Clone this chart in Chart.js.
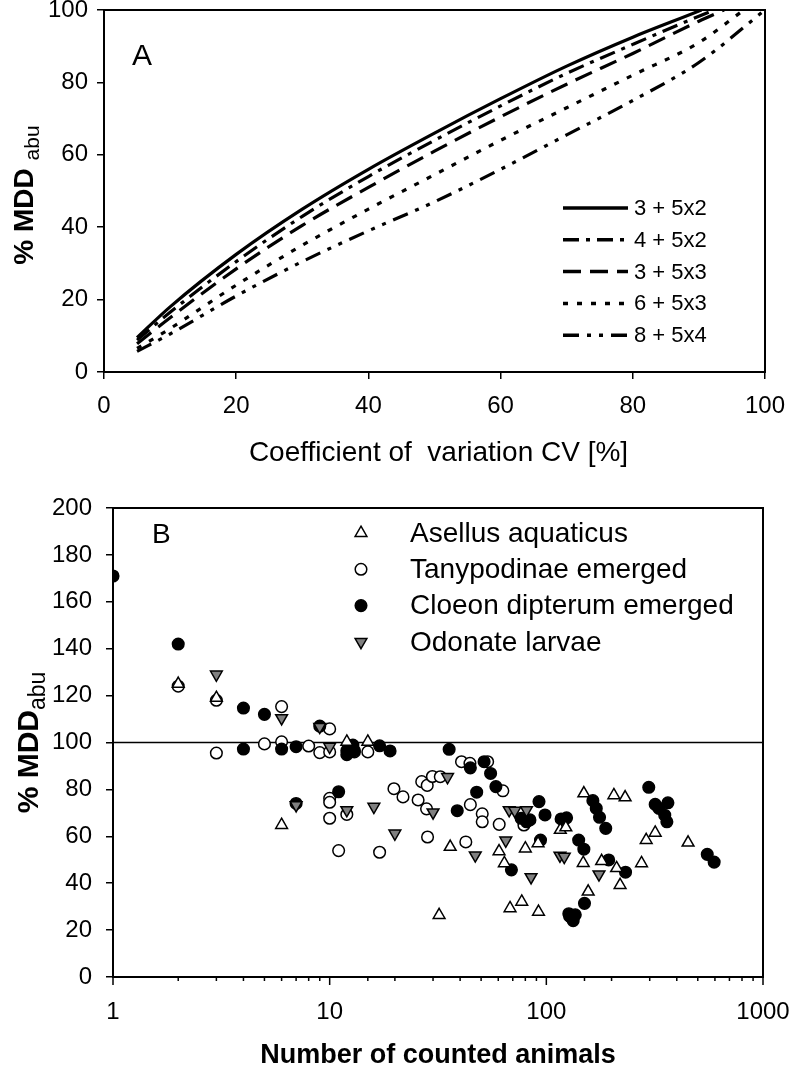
<!DOCTYPE html>
<html>
<head>
<meta charset="utf-8">
<script src="https://cdn.jsdelivr.net/npm/chart.js@4.4.0/dist/chart.umd.min.js"></script>
<style>
  body { margin: 0; background: #fff; }
  #wrapA { position: absolute; left: 0; top: 0; width: 792px; height: 490px; }
  #wrapB { position: absolute; left: 0; top: 490px; width: 792px; height: 581px; }
</style>
</head>
<body>
<div id="wrapA"><canvas id="chartA"></canvas></div>
<div id="wrapB"><canvas id="chartB"></canvas></div>
<script>
const FONT = "'Liberation Sans', Arial, sans-serif";
Chart.defaults.font.family = FONT;
Chart.defaults.color = '#000';
Chart.defaults.animation = false;

// ---- panel A data ----
const cvGrid = [5, 10, 20, 30, 40, 50, 60, 70, 80, 90];
const curveLabels = ['3 + 5x2', '4 + 5x2', '3 + 5x3', '6 + 5x3', '8 + 5x4'];
const mdd3x2 = [9.5, 18, 32.5, 45, 56, 66, 75.5, 84.5, 92.5, 99.7];
const mdd4x2 = [8.8, 16.5, 30.5, 43, 54, 64, 73.5, 82.5, 90.5, 98.3];
const mdd3x3 = [7.8, 15, 28.5, 40.5, 51, 61, 70.5, 79.5, 88, 96.9];
const mdd6x3 = [6.5, 12, 24, 35, 45, 54.5, 64, 73, 82, 91];
const mdd8x4 = [5.7, 10.5, 21, 30.5, 39, 47, 56, 65.5, 75, 85.5];
const cvAt100 = [90.4, 92.3, 93.8, 96.8, 100];
const cvTicks = [0, 20, 40, 60, 80, 100];

// ---- panel B data: [counted animals, %MDD] ----
const speciesLabels = ['Asellus aquaticus', 'Tanypodinae emerged', 'Cloeon dipterum emerged', 'Odonate larvae'];
const asellus = [[2,125],[3,119],[6,64.8],[12,100.3],[15,100.3],[32,26.4],[36,55.5],[60.5,53.6],[64,48.5],
  [68,29.3],[77,32.1],[80,54.8],[92,27.8],[91.6,57],[116,62.7],[123,63.8],[148,48.6],[149,78.3],[156,36.4],
  [180,49.4],[205,77.5],[211,46.4],[219,39.2],[231,76.6],[275,48.5],[289,58.4],[318,61.5],[451,57.3]];
const tanypodinae = [[2,124],[3,118],[3,95.5],[5,99.4],[6,115.3],[6,100.3],[8,98.5],[9,95.7],[10,105.8],[10,96],
  [10,76.2],[10,74.5],[10,67.7],[11,53.9],[12,69.3],[13,96],[15,96],[17,53.2],[19.8,80.3],[21.8,76.8],[25.6,75.5],
  [26.6,83.3],[28.2,81.7],[28,71.7],[28.3,59.7],[29.8,85.5],[32.4,85.4],[40.6,91.8],[42.5,57.6],[44.4,91.1],
  [44.6,73.5],[50.6,69.6],[50.6,66.2],[53.6,91.8],[60.6,65.1],[63,79.4],[78.8,64.8]];
const cloeon = [[1,171],[2,142],[4,114.7],[4,97.2],[5,112],[6,97.2],[7,98.2],[7,74],[9,107],[11,79],[12,96.5],
  [12,94.8],[12.8,98.9],[13,96.5],[17,98.6],[19,96.4],[35.6,97.1],[38.8,70.9],[44.6,89.2],[47.7,78.8],[51.6,91.8],
  [55.3,86.8],[58.5,81.2],[69,45.7],[76.5,67.7],[81,66.2],[84,67],[92.5,74.8],[94,58.4],[98.6,69.1],[117,67.4],
  [124,67.9],[127,27],[130,25.5],[133,24],[136,26.5],[128,26],[141,58.4],[149,54.5],[150,31.4],[164,75.2],
  [170,71.9],[176,68.1],[188,63.4],[194,49.9],[232,44.7],[297,80.9],[318,73.6],[331,71.9],[352,69],[360,66.2],
  [364,74.3],[553,52.3],[595,49]];
const odonate = [[3,129],[6,110.4],[7,73.3],[9,106.7],[10,98.2],[12,71.2],[16,72.6],[20,61.2],[30,70.2],[35,85.3],
  [47,51.9],[65,58.2],[67.4,71.2],[71.5,70.9],[81,71.2],[85,42.6],[115.6,51.8],[121,51.3],[175,43.8]];
const refLevel = 100;
const countTicks = [1, 10, 100, 1000];

// ---- helpers ----
function xy(pairs) { return pairs.map(p => ({ x: p[0], y: p[1] })); }

function curve(values, endCv) {
  const pts = cvGrid.map((cv, i) => ({ x: cv, y: values[i] }));
  pts.push({ x: endCv, y: 100 });
  return pts;
}

function drawYTitle(ctx, x, yc, main, sub, size) {
  ctx.save();
  ctx.translate(x, yc);
  ctx.rotate(-Math.PI / 2);
  ctx.fillStyle = '#000';
  ctx.textBaseline = 'alphabetic';
  const subSize = Math.round(size * 0.76);
  ctx.font = 'bold ' + size + 'px ' + FONT;
  const w1 = ctx.measureText(main).width;
  ctx.font = subSize + 'px ' + FONT;
  const w2 = ctx.measureText(sub).width;
  const start = -(w1 + w2) / 2;
  ctx.font = 'bold ' + size + 'px ' + FONT;
  ctx.fillText(main, start, 0);
  ctx.font = subSize + 'px ' + FONT;
  ctx.fillText(sub, start + w1, Math.round(size * 0.22));
  ctx.restore();
}

function boxAround(ctx, ca) {
  ctx.save();
  ctx.strokeStyle = '#000';
  ctx.lineWidth = 2;
  ctx.strokeRect(ca.left, ca.top, ca.right - ca.left, ca.bottom - ca.top);
  ctx.restore();
}

function fixedAxis(size, vertical) {
  return function (scale) {
    if (vertical) scale.width = size; else scale.height = size;
    scale.paddingTop = 0; scale.paddingBottom = 0;
    scale.paddingLeft = 0; scale.paddingRight = 0;
  };
}

// ---- panel A ----
const dashes = [[], [16, 7, 4, 7], [18, 9], [5, 9], [16, 8, 4, 8, 4, 8]];
const seriesA = [mdd3x2, mdd4x2, mdd3x3, mdd6x3, mdd8x4];

const decorA = {
  id: 'decorA',
  afterDraw(chart) {
    const { ctx, chartArea: ca } = chart;
    boxAround(ctx, ca);
    ctx.save();
    ctx.fillStyle = '#000';
    ctx.font = '30px ' + FONT;
    ctx.textBaseline = 'alphabetic';
    ctx.fillText('A', ca.left + 28, 65);

    // legend inside plot
    ctx.font = '22px ' + FONT;
    ctx.textBaseline = 'middle';
    chart.data.datasets.forEach((ds, i) => {
      const y = 208 + i * 31.8;
      ctx.strokeStyle = '#000';
      ctx.lineWidth = 3.5;
      ctx.setLineDash(ds.borderDash || []);
      ctx.beginPath();
      ctx.moveTo(563, y);
      ctx.lineTo(628, y);
      ctx.stroke();
      ctx.setLineDash([]);
      ctx.fillText(ds.label, 634, y + 1);
    });

    // axis titles
    ctx.font = '28px ' + FONT;
    ctx.textAlign = 'center';
    ctx.fillText('Coefficient of  variation CV [%]', (ca.left + ca.right) / 2 + 4, 453);
    ctx.restore();
    drawYTitle(ctx, 33, (ca.top + ca.bottom) / 2 + 4, '% MDD ', 'abu', 28);
  }
};

new Chart(document.getElementById('chartA'), {
  type: 'line',
  data: {
    datasets: seriesA.map((vals, i) => ({
      label: curveLabels[i],
      data: curve(vals, cvAt100[i]),
      borderColor: '#000',
      borderWidth: 3.2,
      borderDash: dashes[i],
      pointRadius: 0,
      fill: false,
      cubicInterpolationMode: 'monotone'
    }))
  },
  options: {
    responsive: true,
    maintainAspectRatio: false,
    layout: { padding: { top: 10, right: 27, left: 0, bottom: 0 } },
    plugins: { legend: { display: false }, tooltip: { enabled: false } },
    scales: {
      x: {
        type: 'linear', min: 0, max: 100,
        afterBuildTicks: s => { s.ticks = cvTicks.map(v => ({ value: v })); },
        afterFit: fixedAxis(118, false),
        border: { color: '#000', width: 2 },
        grid: { drawOnChartArea: false, color: '#000', lineWidth: 1.5, tickLength: 7 },
        ticks: { font: { size: 24 }, padding: 13, maxRotation: 0 }
      },
      y: {
        min: 0, max: 100,
        afterFit: fixedAxis(104, true),
        border: { color: '#000', width: 2 },
        grid: { drawOnChartArea: false, color: '#000', lineWidth: 1.5, tickLength: 7 },
        ticks: { font: { size: 24 }, padding: 9, stepSize: 20 }
      }
    }
  },
  plugins: [decorA]
});

// ---- panel B ----
const markerStyles = [
  { pointStyle: 'triangle', rotation: 0, radius: 6.8, fill: '#fff' },
  { pointStyle: 'circle', rotation: 0, radius: 5.8, fill: '#fff' },
  { pointStyle: 'circle', rotation: 0, radius: 5.8, fill: '#000' },
  { pointStyle: 'triangle', rotation: 180, radius: 6.8, fill: '#808080' }
];
const seriesB = [asellus, tanypodinae, cloeon, odonate];

function drawMarker(ctx, st, x, y) {
  ctx.save();
  ctx.fillStyle = st.fill;
  ctx.strokeStyle = '#000';
  ctx.lineWidth = 1.5;
  ctx.beginPath();
  if (st.pointStyle === 'circle') {
    ctx.arc(x, y, st.radius, 0, Math.PI * 2);
  } else {
    const r = st.radius;
    const dir = st.rotation === 180 ? -1 : 1;
    ctx.moveTo(x, y - dir * r);
    ctx.lineTo(x + r * Math.sin(2 * Math.PI / 3), y + dir * r / 2);
    ctx.lineTo(x - r * Math.sin(2 * Math.PI / 3), y + dir * r / 2);
    ctx.closePath();
  }
  ctx.fill();
  ctx.stroke();
  ctx.restore();
}

const decorB = {
  id: 'decorB',
  afterDraw(chart) {
    const { ctx, chartArea: ca } = chart;
    const xs = chart.scales.x;
    boxAround(ctx, ca);
    ctx.save();
    // log ticks: long for decades, short for the rest
    ctx.strokeStyle = '#000';
    ctx.lineWidth = 1.5;
    xs.ticks.forEach(t => {
      const px = xs.getPixelForValue(t.value);
      const major = countTicks.includes(t.value);
      ctx.beginPath();
      ctx.moveTo(px, ca.bottom);
      ctx.lineTo(px, ca.bottom + (major ? 8 : 4));
      ctx.stroke();
    });

    ctx.fillStyle = '#000';
    ctx.font = '28px ' + FONT;
    ctx.textBaseline = 'alphabetic';
    ctx.fillText('B', ca.left + 39, 53);

    // legend
    ctx.textBaseline = 'middle';
    speciesLabels.forEach((lab, i) => {
      const y = 43 + i * 36.3;
      drawMarker(ctx, markerStyles[i], 361, y);
      ctx.fillStyle = '#000';
      ctx.font = '28px ' + FONT;
      ctx.fillText(lab, 410, y + 1);
    });

    ctx.font = 'bold 27px ' + FONT;
    ctx.textAlign = 'center';
    ctx.fillText('Number of counted animals', (ca.left + ca.right) / 2, 566);
    ctx.restore();
    drawYTitle(ctx, 38, (ca.top + ca.bottom) / 2, '% MDD', 'abu', 30);
  }
};

const datasetsB = seriesB.map((pts, i) => ({
  label: speciesLabels[i],
  data: xy(pts),
  pointStyle: markerStyles[i].pointStyle,
  rotation: markerStyles[i].rotation,
  pointRadius: markerStyles[i].radius,
  backgroundColor: markerStyles[i].fill,
  borderColor: '#000',
  borderWidth: 1.5
}));
// draw order: Asellus on top, then Odonate, Cloeon, Tanypodinae
datasetsB[0].order = 0;
datasetsB[3].order = 1;
datasetsB[2].order = 2;
datasetsB[1].order = 3;
datasetsB.push({
  label: 'ref',
  type: 'line',
  data: [{ x: countTicks[0], y: refLevel }, { x: countTicks[countTicks.length - 1], y: refLevel }],
  borderColor: '#000',
  borderWidth: 1.5,
  pointRadius: 0,
  showLine: true,
  order: 9
});

new Chart(document.getElementById('chartB'), {
  type: 'scatter',
  data: { datasets: datasetsB },
  options: {
    responsive: true,
    maintainAspectRatio: false,
    layout: { padding: { top: 18, right: 29, left: 0, bottom: 0 } },
    plugins: { legend: { display: false }, tooltip: { enabled: false } },
    scales: {
      x: {
        type: 'logarithmic', min: 1, max: 1000,
        afterFit: fixedAxis(94, false),
        border: { color: '#000', width: 2 },
        grid: { drawOnChartArea: false, drawTicks: false },
        ticks: {
          font: { size: 24 }, padding: 21, maxRotation: 0, autoSkip: false,
          callback: v => countTicks.includes(v) ? String(v) : ''
        }
      },
      y: {
        min: 0, max: 200,
        afterFit: fixedAxis(113, true),
        border: { color: '#000', width: 2 },
        grid: { drawOnChartArea: false, color: '#000', lineWidth: 1.5, tickLength: 7 },
        ticks: { font: { size: 24 }, padding: 14, stepSize: 20 }
      }
    }
  },
  plugins: [decorB]
});
</script>
</body>
</html>
